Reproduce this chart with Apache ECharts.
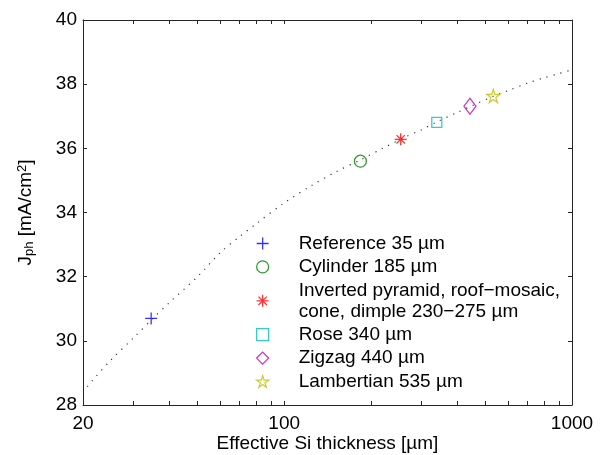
<!DOCTYPE html>
<html>
<head>
<meta charset="utf-8">
<script src="https://cdn.jsdelivr.net/npm/echarts@6/dist/echarts.min.js"></script>
<style>
html,body{margin:0;padding:0;background:#fff;}
#chart{width:605px;height:455px;}
</style>
</head>
<body>
<div id="chart"></div>
<script>
// ---- data ----
const curveThickness = [20.7, 22, 25, 30, 35, 40, 50, 60, 70, 80, 100, 125, 150, 185, 220, 260, 300, 340, 400, 450, 535, 600, 700, 800, 900, 1000];
const curveJph       = [28.57, 28.85, 29.4, 30.1, 30.7, 31.2, 32.0, 32.75, 33.25, 33.65, 34.3, 34.85, 35.25, 35.65, 36.0, 36.33, 36.58, 36.83, 37.12, 37.33, 37.63, 37.8, 38.03, 38.2, 38.33, 38.45];

const markerNames = [
  'Reference 35 µm',
  'Cylinder 185 µm',
  'Inverted pyramid, roof\u2212mosaic,\ncone, dimple 230\u2212275 µm',
  'Rose 340 µm',
  'Zigzag 440 µm',
  'Lambertian 535 µm'
];
const markerThickness = [34.5, 184, 254, 339, 442, 533];
const markerJph       = [30.7, 35.6, 36.28, 36.81, 37.31, 37.63];

const xTickLabels = [20, 100, 1000];
const xTickValues = [20, 30, 40, 50, 60, 70, 80, 90, 100, 200, 300, 400, 500, 600, 700, 800, 900, 1000];
const yMin = 28, yMax = 40, yInterval = 2;

// ---- styles ----
const markerColors = ['#0000ff', '#008000', '#ff0000', '#00bfbf', '#bf00bf', '#bfbf00'];
const markerSymbols = [
  'path://M0,6L12,6M6,0L6,12',
  'circle',
  'path://M0,6L12,6M6,0L6,12M1.8,1.8L10.2,10.2M1.8,10.2L10.2,1.8',
  'rect',
  'diamond',
  'path://M10,0L12.245,6.91L19.511,6.91L13.633,11.18L15.878,18.09L10,13.82L4.122,18.09L6.367,11.18L0.489,6.91L7.755,6.91Z'
];
const markerSizes = [12, 12, 12, 10, [12, 16], 13];

const FONT = '"Liberation Sans", Arial, Helvetica, sans-serif';
const FS = 19;
const AX = '#262626';

const chart = echarts.init(document.getElementById('chart'), null, {renderer: 'canvas'});

const scatterSeries = markerNames.map((name, i) => ({
  name: name,
  type: 'scatter',
  data: [[markerThickness[i], markerJph[i]]],
  symbol: markerSymbols[i],
  symbolSize: markerSizes[i],
  itemStyle: {color: 'rgba(0,0,0,0)', borderColor: markerColors[i], borderWidth: 1.3},
  emphasis: {disabled: true},
  z: 5
}));

const commonX = {
  type: 'log', logBase: 10, min: 20, max: 1000,
  axisLine: {show: true, lineStyle: {color: AX, width: 1}},
  axisTick: {show: true, inside: true, length: 4, customValues: xTickValues, lineStyle: {color: AX, width: 1}},
  splitLine: {show: false},
  minorTick: {show: false}
};
const commonY = {
  type: 'value', min: yMin, max: yMax, interval: yInterval,
  axisLine: {show: true, lineStyle: {color: AX, width: 1}},
  axisTick: {show: true, inside: true, length: 4, lineStyle: {color: AX, width: 1}},
  splitLine: {show: false}
};

chart.setOption({
  animation: false,
  backgroundColor: '#fff',
  textStyle: {fontFamily: FONT},
  grid: {left: 83, right: 33, top: 20, bottom: 50, containLabel: false, outerBoundsMode: 'none'},
  xAxis: [
    Object.assign({}, commonX, {
      position: 'bottom',
      axisLabel: {show: true, customValues: xTickLabels, margin: 9, color: '#000', fontSize: FS, fontFamily: FONT,
        formatter: v => String(Math.round(v))},
      name: 'Effective Si thickness [µm]',
      nameLocation: 'middle', nameGap: 29, nameMoveOverlap: false,
      nameTextStyle: {color: '#000', fontSize: FS, fontFamily: FONT}
    }),
    Object.assign({}, commonX, {position: 'top', axisLabel: {show: false}})
  ],
  yAxis: [
    Object.assign({}, commonY, {
      position: 'left',
      axisLabel: {show: true, margin: 6, color: '#000', fontSize: FS, fontFamily: FONT},
      name: '{m|J}{s|ph}{m| [mA/cm}{p|2}{m|]}',
      nameLocation: 'middle', nameRotate: 90, nameGap: 47, nameMoveOverlap: false,
      nameTextStyle: {
        color: '#000', fontFamily: FONT,
        rich: {
          m: {fontSize: FS, lineHeight: 20, fontFamily: FONT, color: '#000'},
          s: {fontSize: 13, lineHeight: 12, verticalAlign: 'bottom', fontFamily: FONT, color: '#000'},
          p: {fontSize: 13, lineHeight: 4, verticalAlign: 'top', fontFamily: FONT, color: '#000'}
        }
      }
    }),
    Object.assign({}, commonY, {position: 'right', axisLabel: {show: false}})
  ],
  legend: {
    orient: 'vertical',
    left: 256, top: 233,
    padding: 0,
    itemGap: 2.4,
    itemWidth: 12, itemHeight: 12,
    data: markerNames,
    itemStyle: {borderWidth: 1.3},
    textStyle: {color: '#000', fontSize: FS, lineHeight: 21, fontFamily: FONT, padding: [0, 0, 0, 25]},
    selectedMode: false
  },
  series: [
    {
      name: 'curve',
      type: 'line',
      data: curveThickness.map((t, i) => [t, curveJph[i]]),
      smooth: 0.3,
      symbol: 'none',
      lineStyle: {color: '#333', width: 1.2, type: [1.2, 6], cap: 'butt'},
      emphasis: {disabled: true},
      z: 2
    }
  ].concat(scatterSeries)
});
</script>
</body>
</html>
